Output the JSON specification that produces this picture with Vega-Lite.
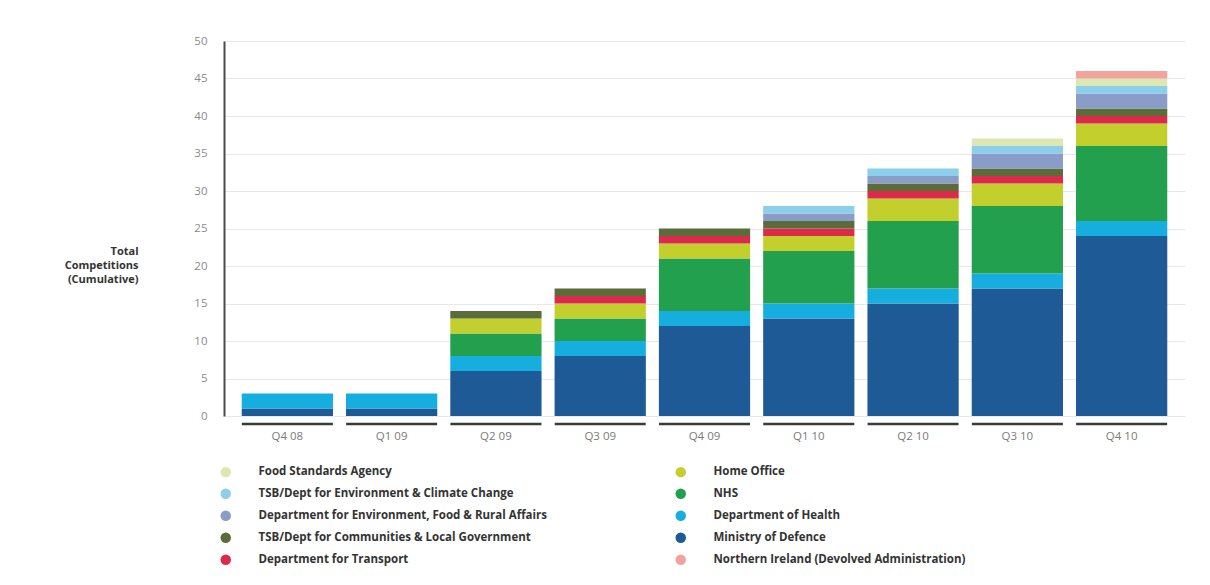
{
  "$schema": "https://vega.github.io/schema/vega-lite/v6.json",
  "width": 961,
  "height": 375,
  "autosize": {"type": "none"},
  "padding": {"left": 224, "top": 41, "right": 25, "bottom": 169},
  "background": "white",
  "config": {
    "view": {"stroke": null},
    "font": "Open Sans",
    "axisY": {
      "values": [0, 5, 10, 15, 20, 25, 30, 35, 40, 45, 50],
      "labelOverlap": false,
      "titleAngle": 0,
      "titleAlign": "right",
      "titleBaseline": "top",
      "titleX": -86,
      "titleY": 204,
      "titleFontSize": 11,
      "titleFontWeight": "bold",
      "titleColor": "#333333",
      "titleLineHeight": 14,
      "domain": true,
      "domainColor": "#4a4a4a",
      "domainWidth": 2,
      "ticks": false,
      "labelPadding": 17,
      "labelColor": "#8a8a8a",
      "labelFontSize": 11.5,
      "grid": true,
      "gridColor": "#e8e8e8",
      "gridWidth": 1
    },
    "axisX": {
      "domain": false,
      "ticks": false,
      "labelAngle": 0,
      "labelColor": "#7a7a7a",
      "labelFontSize": 11.5,
      "labelPadding": 14,
      "grid": false
    }
  },
  "datasets": {
    "quarters": [
      {"quarter": "Q4 08"}, {"quarter": "Q1 09"}, {"quarter": "Q2 09"}, {"quarter": "Q3 09"}, {"quarter": "Q4 09"},
      {"quarter": "Q1 10"}, {"quarter": "Q2 10"}, {"quarter": "Q3 10"}, {"quarter": "Q4 10"}
    ]
  },
  "data": {
    "values": [
      {"quarter": "Q4 08", "agency": "Ministry of Defence", "stack": 1, "value": 1},
      {"quarter": "Q4 08", "agency": "Department of Health", "stack": 2, "value": 2},
      {"quarter": "Q1 09", "agency": "Ministry of Defence", "stack": 1, "value": 1},
      {"quarter": "Q1 09", "agency": "Department of Health", "stack": 2, "value": 2},
      {"quarter": "Q2 09", "agency": "Ministry of Defence", "stack": 1, "value": 6},
      {"quarter": "Q2 09", "agency": "Department of Health", "stack": 2, "value": 2},
      {"quarter": "Q2 09", "agency": "NHS", "stack": 3, "value": 3},
      {"quarter": "Q2 09", "agency": "Home Office", "stack": 4, "value": 2},
      {"quarter": "Q2 09", "agency": "TSB/Dept for Communities & Local Government", "stack": 6, "value": 1},
      {"quarter": "Q3 09", "agency": "Ministry of Defence", "stack": 1, "value": 8},
      {"quarter": "Q3 09", "agency": "Department of Health", "stack": 2, "value": 2},
      {"quarter": "Q3 09", "agency": "NHS", "stack": 3, "value": 3},
      {"quarter": "Q3 09", "agency": "Home Office", "stack": 4, "value": 2},
      {"quarter": "Q3 09", "agency": "Department for Transport", "stack": 5, "value": 1},
      {"quarter": "Q3 09", "agency": "TSB/Dept for Communities & Local Government", "stack": 6, "value": 1},
      {"quarter": "Q4 09", "agency": "Ministry of Defence", "stack": 1, "value": 12},
      {"quarter": "Q4 09", "agency": "Department of Health", "stack": 2, "value": 2},
      {"quarter": "Q4 09", "agency": "NHS", "stack": 3, "value": 7},
      {"quarter": "Q4 09", "agency": "Home Office", "stack": 4, "value": 2},
      {"quarter": "Q4 09", "agency": "Department for Transport", "stack": 5, "value": 1},
      {"quarter": "Q4 09", "agency": "TSB/Dept for Communities & Local Government", "stack": 6, "value": 1},
      {"quarter": "Q1 10", "agency": "Ministry of Defence", "stack": 1, "value": 13},
      {"quarter": "Q1 10", "agency": "Department of Health", "stack": 2, "value": 2},
      {"quarter": "Q1 10", "agency": "NHS", "stack": 3, "value": 7},
      {"quarter": "Q1 10", "agency": "Home Office", "stack": 4, "value": 2},
      {"quarter": "Q1 10", "agency": "Department for Transport", "stack": 5, "value": 1},
      {"quarter": "Q1 10", "agency": "TSB/Dept for Communities & Local Government", "stack": 6, "value": 1},
      {"quarter": "Q1 10", "agency": "Department for Environment, Food & Rural Affairs", "stack": 7, "value": 1},
      {"quarter": "Q1 10", "agency": "TSB/Dept for Environment & Climate Change", "stack": 8, "value": 1},
      {"quarter": "Q2 10", "agency": "Ministry of Defence", "stack": 1, "value": 15},
      {"quarter": "Q2 10", "agency": "Department of Health", "stack": 2, "value": 2},
      {"quarter": "Q2 10", "agency": "NHS", "stack": 3, "value": 9},
      {"quarter": "Q2 10", "agency": "Home Office", "stack": 4, "value": 3},
      {"quarter": "Q2 10", "agency": "Department for Transport", "stack": 5, "value": 1},
      {"quarter": "Q2 10", "agency": "TSB/Dept for Communities & Local Government", "stack": 6, "value": 1},
      {"quarter": "Q2 10", "agency": "Department for Environment, Food & Rural Affairs", "stack": 7, "value": 1},
      {"quarter": "Q2 10", "agency": "TSB/Dept for Environment & Climate Change", "stack": 8, "value": 1},
      {"quarter": "Q3 10", "agency": "Ministry of Defence", "stack": 1, "value": 17},
      {"quarter": "Q3 10", "agency": "Department of Health", "stack": 2, "value": 2},
      {"quarter": "Q3 10", "agency": "NHS", "stack": 3, "value": 9},
      {"quarter": "Q3 10", "agency": "Home Office", "stack": 4, "value": 3},
      {"quarter": "Q3 10", "agency": "Department for Transport", "stack": 5, "value": 1},
      {"quarter": "Q3 10", "agency": "TSB/Dept for Communities & Local Government", "stack": 6, "value": 1},
      {"quarter": "Q3 10", "agency": "Department for Environment, Food & Rural Affairs", "stack": 7, "value": 2},
      {"quarter": "Q3 10", "agency": "TSB/Dept for Environment & Climate Change", "stack": 8, "value": 1},
      {"quarter": "Q3 10", "agency": "Food Standards Agency", "stack": 9, "value": 1},
      {"quarter": "Q4 10", "agency": "Ministry of Defence", "stack": 1, "value": 24},
      {"quarter": "Q4 10", "agency": "Department of Health", "stack": 2, "value": 2},
      {"quarter": "Q4 10", "agency": "NHS", "stack": 3, "value": 10},
      {"quarter": "Q4 10", "agency": "Home Office", "stack": 4, "value": 3},
      {"quarter": "Q4 10", "agency": "Department for Transport", "stack": 5, "value": 1},
      {"quarter": "Q4 10", "agency": "TSB/Dept for Communities & Local Government", "stack": 6, "value": 1},
      {"quarter": "Q4 10", "agency": "Department for Environment, Food & Rural Affairs", "stack": 7, "value": 2},
      {"quarter": "Q4 10", "agency": "TSB/Dept for Environment & Climate Change", "stack": 8, "value": 1},
      {"quarter": "Q4 10", "agency": "Food Standards Agency", "stack": 9, "value": 1},
      {"quarter": "Q4 10", "agency": "Northern Ireland (Devolved Administration)", "stack": 10, "value": 1}
    ]
  },
  "layer": [
    {
      "mark": {"type": "bar", "stroke": null},
      "encoding": {
        "x": {
          "field": "quarter",
          "type": "nominal",
          "sort": null,
          "title": null,
          "scale": {"paddingInner": 0.125, "paddingOuter": 0.17}
        },
        "y": {
          "aggregate": "sum",
          "field": "value",
          "type": "quantitative",
          "stack": "zero",
          "title": ["Total", "Competitions", "(Cumulative)"],
          "scale": {"domain": [0, 50], "nice": false}
        },
        "color": {
          "field": "agency",
          "type": "nominal",
          "scale": {
            "domain": [
              "Food Standards Agency",
              "TSB/Dept for Environment & Climate Change",
              "Department for Environment, Food & Rural Affairs",
              "TSB/Dept for Communities & Local Government",
              "Department for Transport",
              "Home Office",
              "NHS",
              "Department of Health",
              "Ministry of Defence",
              "Northern Ireland (Devolved Administration)"
            ],
            "range": [
              "#dde7b3",
              "#8ccfea",
              "#8a9cc8",
              "#5b6c3b",
              "#dc2a4a",
              "#c3cf2d",
              "#22a04e",
              "#15aede",
              "#1d5a96",
              "#f2a39e"
            ]
          },
          "legend": {
            "title": null,
            "orient": "none",
            "legendX": -4,
            "legendY": 425,
            "direction": "vertical",
            "columns": 2,
            "columnPadding": 128,
            "rowPadding": 9,
            "symbolType": "circle",
            "symbolSize": 110,
            "symbolStrokeWidth": 0,
            "labelFontSize": 11.5,
            "labelFontWeight": "bold",
            "labelColor": "#333333",
            "labelOffset": 27,
            "labelLimit": 500
          }
        },
        "order": {"field": "stack", "type": "quantitative", "sort": "ascending"}
      }
    },
    {
      "data": {"name": "quarters"},
      "mark": {"type": "tick", "color": "#3a3a3a", "opacity": 1, "thickness": 2.5, "size": 91, "yOffset": 8},
      "encoding": {
        "x": {"field": "quarter", "type": "nominal", "sort": null, "title": null},
        "y": {"datum": 0, "type": "quantitative", "title": ["Total", "Competitions", "(Cumulative)"]}
      }
    }
  ]
}
